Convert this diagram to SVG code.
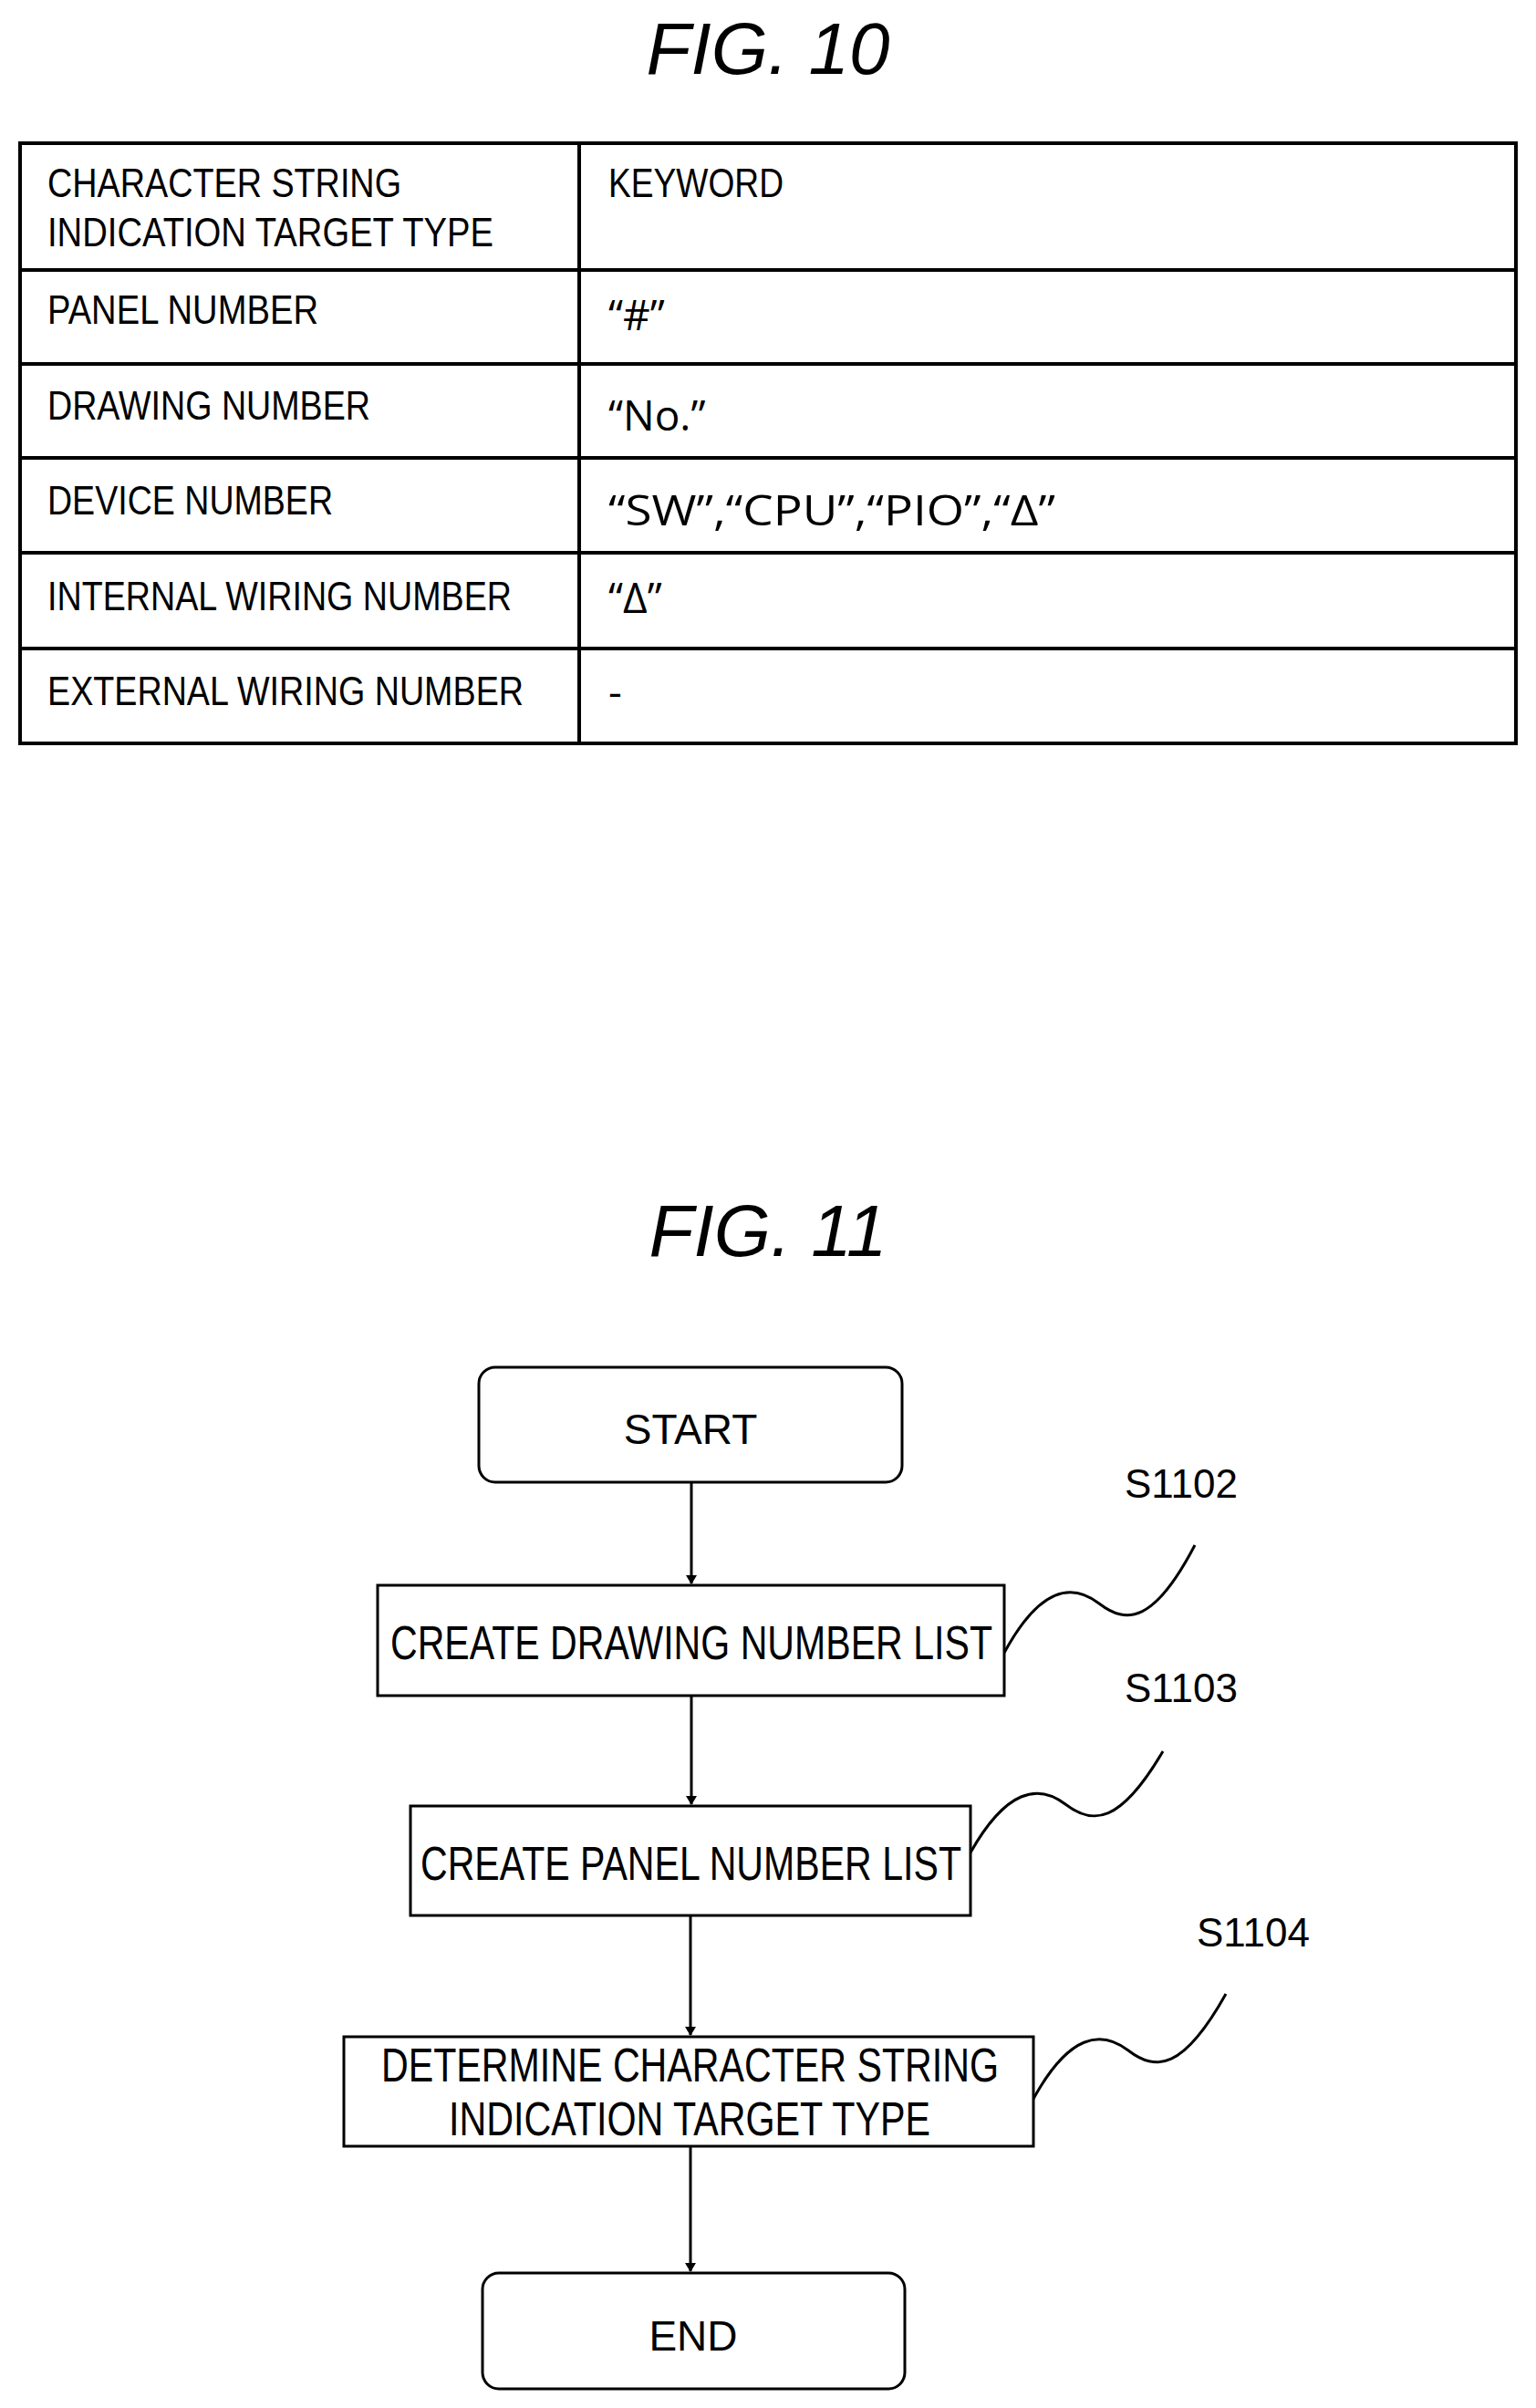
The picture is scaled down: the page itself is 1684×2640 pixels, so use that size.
<svg xmlns="http://www.w3.org/2000/svg" width="1684" height="2640" viewBox="0 0 1684 2640">
<defs>
<style>
.t{font-family:"Liberation Sans",Arial,sans-serif;fill:#000}
.k{font-family:"Open Sans","Liberation Sans",sans-serif;fill:#000;font-size:46px}
.box{fill:#fff;stroke:#000;stroke-width:3}
.ln{stroke:#000;stroke-width:3;fill:none}
.tb{stroke:#000;stroke-width:4;fill:none}
</style>
<marker id="ah" markerWidth="10" markerHeight="12" refX="9" refY="6" orient="auto" markerUnits="userSpaceOnUse" viewBox="0 0 10 12"><path d="M0 0L10 6L0 12Z" fill="#000"/></marker>
</defs>
<rect width="1684" height="2640" fill="#fff"/>
<text class="t" x="842" y="81" font-size="80" font-style="italic" text-anchor="middle">FIG. 10</text>
<g id="table">
<rect class="tb" x="22" y="157" width="1640" height="658"/>
<line class="tb" x1="635" y1="157" x2="635" y2="815"/>
<line class="tb" x1="22" y1="296" x2="1662" y2="296"/>
<line class="tb" x1="22" y1="399" x2="1662" y2="399"/>
<line class="tb" x1="22" y1="502" x2="1662" y2="502"/>
<line class="tb" x1="22" y1="606" x2="1662" y2="606"/>
<line class="tb" x1="22" y1="711" x2="1662" y2="711"/>
<g font-size="44">
<text class="t" x="52" y="216" textLength="388" lengthAdjust="spacingAndGlyphs">CHARACTER STRING</text>
<text class="t" x="52" y="270" textLength="489" lengthAdjust="spacingAndGlyphs">INDICATION TARGET TYPE</text>
<text class="t" x="667" y="216" textLength="192" lengthAdjust="spacingAndGlyphs">KEYWORD</text>
<text class="t" x="52" y="355" textLength="297" lengthAdjust="spacingAndGlyphs">PANEL NUMBER</text>
<text class="t" x="52" y="460" textLength="354" lengthAdjust="spacingAndGlyphs">DRAWING NUMBER</text>
<text class="t" x="52" y="564" textLength="313" lengthAdjust="spacingAndGlyphs">DEVICE NUMBER</text>
<text class="t" x="52" y="669" textLength="509" lengthAdjust="spacingAndGlyphs">INTERNAL WIRING NUMBER</text>
<text class="t" x="52" y="773" textLength="522" lengthAdjust="spacingAndGlyphs">EXTERNAL WIRING NUMBER</text>
</g>
<text class="k" x="667" y="362">“#”</text>
<text class="k" x="667" y="472">“No.”</text>
<text class="k" x="667" y="576" textLength="490" lengthAdjust="spacingAndGlyphs">“SW”,“CPU”,“PIO”,“Δ”</text>
<text class="k" x="667" y="672">“Δ”</text>
<text class="k" x="667" y="775" font-size="30">-</text>
</g>
<text class="t" x="842" y="1377" font-size="80" font-style="italic" text-anchor="middle">FIG. 11</text>
<g id="connectors">
<line class="ln" x1="758" y1="1625" x2="758" y2="1736" marker-end="url(#ah)"/>
<line class="ln" x1="758" y1="1859" x2="758" y2="1978" marker-end="url(#ah)"/>
<line class="ln" x1="757" y1="2100" x2="757" y2="2231" marker-end="url(#ah)"/>
<line class="ln" x1="757" y1="2353" x2="757" y2="2490" marker-end="url(#ah)"/>
<path class="ln" stroke-width="2" d="M1101 1812 C1140 1740 1175 1735 1205 1758 S1265 1780 1310 1694"/>
<path class="ln" stroke-width="2" d="M1064 2031 C1103 1962 1138 1955 1168 1978 S1228 2000 1275 1920"/>
<path class="ln" stroke-width="2" d="M1133 2301 C1172 2230 1207 2225 1237 2248 S1297 2270 1344 2186"/>
</g>
<g id="start"><rect class="box" x="525" y="1499" width="464" height="126" rx="18"/><text class="t" x="757" y="1583" font-size="46" text-anchor="middle">START</text></g>
<g id="s1102"><rect class="box" x="414" y="1738" width="687" height="121"/><text class="t" x="428" y="1819" font-size="52" textLength="660" lengthAdjust="spacingAndGlyphs">CREATE DRAWING NUMBER LIST</text><text class="t" x="1233" y="1642" font-size="44">S1102</text></g>
<g id="s1103"><rect class="box" x="450" y="1980" width="614" height="120"/><text class="t" x="461" y="2061" font-size="52" textLength="593" lengthAdjust="spacingAndGlyphs">CREATE PANEL NUMBER LIST</text><text class="t" x="1233" y="1866" font-size="44">S1103</text></g>
<g id="s1104"><rect class="box" x="377" y="2233" width="756" height="120"/><text class="t" x="418" y="2282" font-size="52" textLength="677" lengthAdjust="spacingAndGlyphs">DETERMINE CHARACTER STRING</text><text class="t" x="492" y="2341" font-size="52" textLength="528" lengthAdjust="spacingAndGlyphs">INDICATION TARGET TYPE</text><text class="t" x="1312" y="2134" font-size="44">S1104</text></g>
<g id="end"><rect class="box" x="529" y="2492" width="463" height="127" rx="18"/><text class="t" x="760" y="2577" font-size="46" text-anchor="middle">END</text></g>
</svg>
